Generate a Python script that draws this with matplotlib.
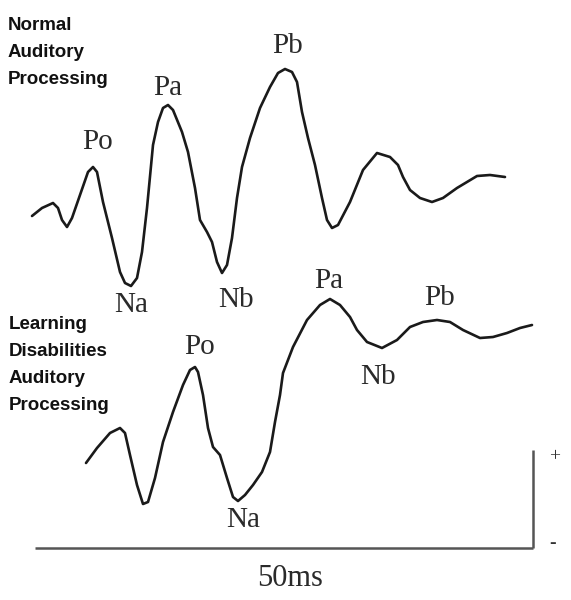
import matplotlib
matplotlib.use("Agg")
import matplotlib.pyplot as plt

# Waveform readings (horizontal position, vertical position; axis units = reference layout)
normal_x = [32, 42, 53, 58, 62, 67, 72, 80, 88, 93, 97, 103, 112, 120, 125, 131, 137, 142, 147, 153, 158, 163, 168, 173, 182, 188, 195, 200, 207, 212, 217, 222, 227, 232, 237, 242, 250, 260, 270, 278, 285, 292, 297, 302, 308, 315, 322, 327, 332, 338, 350, 363, 377, 390, 398, 403, 410, 420, 432, 443, 457, 477, 490, 505]
normal_y = [216, 208, 203, 208, 220, 227, 218, 195, 172, 167, 172, 202, 238, 272, 283, 286, 278, 252, 208, 145, 122, 108, 105, 110, 132, 152, 188, 220, 232, 242, 262, 273, 265, 238, 198, 167, 138, 108, 87, 73, 69, 72, 82, 112, 138, 165, 198, 220, 228, 225, 202, 170, 153, 157, 165, 177, 190, 198, 202, 198, 188, 176, 175, 177]

ld_x = [86, 97, 110, 120, 125, 130, 137, 143, 148, 155, 163, 173, 183, 190, 195, 198, 203, 208, 213, 220, 227, 233, 238, 245, 253, 262, 270, 275, 280, 283, 293, 307, 320, 330, 340, 350, 357, 367, 382, 397, 410, 423, 437, 450, 463, 480, 493, 507, 520, 532]
ld_y = [463, 448, 433, 428, 433, 455, 485, 504, 502, 478, 442, 412, 385, 370, 367, 372, 395, 428, 447, 455, 478, 497, 501, 495, 485, 472, 452, 422, 395, 373, 347, 320, 305, 299, 305, 317, 330, 342, 348, 340, 327, 322, 320, 322, 330, 338, 337, 333, 328, 325]

normal_labels = ["Po", "Pa", "Pb", "Na", "Nb"]
normal_label_x = [98, 168, 288, 131, 236]
normal_label_y = [142, 88, 46, 305, 300]

ld_labels = ["Po", "Pa", "Pb", "Na", "Nb"]
ld_label_x = [200, 329, 440, 243, 378]
ld_label_y = [347, 281, 298, 520, 377]

group_titles = ["Normal\nAuditory\nProcessing", "Learning\nDisabilities\nAuditory\nProcessing"]
group_title_x = [8, 9]
group_title_y = [17, 316]

time_scale_label = "50ms"

fig = plt.figure(figsize=(5.71, 6.0), dpi=100)
ax = fig.add_axes([0, 0, 1, 1])
ax.set_xlim(0, 571)
ax.set_ylim(600, 0)
ax.axis("off")

ax.plot(normal_x, normal_y, color="#1a1a1a", lw=1.9, solid_joinstyle="round", solid_capstyle="round")
ax.plot(ld_x, ld_y, color="#1a1a1a", lw=1.9, solid_joinstyle="round", solid_capstyle="round")

serif = "Liberation Serif"
for t, x, y in zip(normal_labels, normal_label_x, normal_label_y):
    ax.text(x, y, t, family=serif, fontsize=21, color="#2a2a2a", ha="center", va="center")
for t, x, y in zip(ld_labels, ld_label_x, ld_label_y):
    ax.text(x, y, t, family=serif, fontsize=21, color="#2a2a2a", ha="center", va="center")

for t, x, y in zip(group_titles, group_title_x, group_title_y):
    ax.text(x, y, t, family="Liberation Sans", fontweight="bold", fontsize=13.5,
            color="#111111", ha="left", va="top", linespacing=1.78)

# scale bars
ax.plot([35, 533], [548, 548], color="#555555", lw=1.8, solid_capstyle="butt")
ax.plot([533, 533], [450, 548], color="#555555", lw=1.8, solid_capstyle="butt")
ax.text(555, 457, "+", family=serif, fontsize=14, color="#333333", ha="center", va="center")
ax.text(553, 543, "-", family=serif, fontsize=14, color="#333333", ha="center", va="center", fontweight="bold")
ax.text(290, 578, time_scale_label, family=serif, fontsize=22, color="#2a2a2a", ha="center", va="center")

fig.savefig("out.png", dpi=100)
